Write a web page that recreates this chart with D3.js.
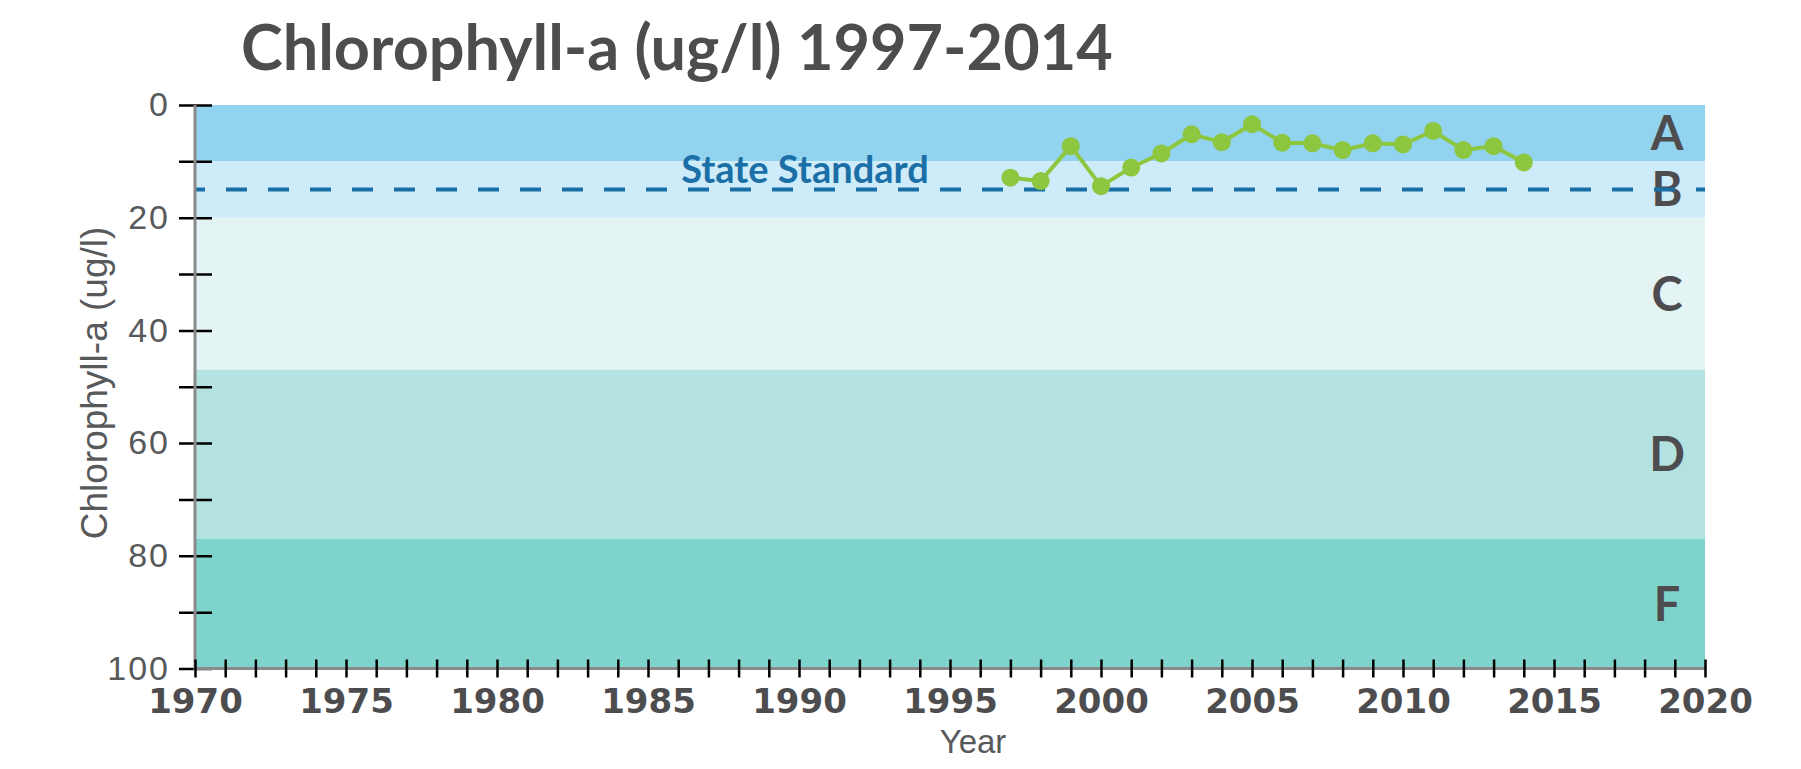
<!DOCTYPE html>
<head>
  <meta charset="utf-8">
  <script src="https://d3js.org/d3.v7.min.js"></script>
  <style>
    body { margin:0; background:#fff; }
  </style>
</head>

<body>
  <script>

    var width = 1801,
        height = 769;

    // data
    var years = [1997, 1998, 1999, 2000, 2001, 2002, 2003, 2004, 2005,
                 2006, 2007, 2008, 2009, 2010, 2011, 2012, 2013, 2014];
    var chl = [12.9, 13.5, 7.3, 14.4, 11.1, 8.6, 5.2, 6.6, 3.4,
               6.7, 6.8, 8.0, 6.8, 7.0, 4.6, 8.0, 7.3, 10.2];

    var gradeLabels = ["A", "B", "C", "D", "F"];
    var gradeBreaks = [0, 10, 20, 47, 77, 100];
    var gradeColors = ["#92d3ef", "#cdebf8", "#e4f3f4", "#b3e2e0", "#7fd3cd"];

    var stateStandard = 15;
    var yTicks = [0, 10, 20, 30, 40, 50, 60, 70, 80, 90, 100];
    var yLabelled = [0, 20, 40, 60, 80, 100];
    var xLabelled = [1970, 1975, 1980, 1985, 1990, 1995, 2000, 2005, 2010, 2015, 2020];

    var svg = d3.select("body").append("svg")
      .attr("width", width)
      .attr("height", height);

    var x = d3.scaleLinear().domain([1970, 2020]).range([195, 1705]);
    var y = d3.scaleLinear().domain([0, 100]).range([105, 668.5]);

    // grade bands
    var bands = gradeLabels.map(function(g, i) {
      return {label: g, lo: gradeBreaks[i], hi: gradeBreaks[i + 1], color: gradeColors[i]};
    });

    svg.selectAll("rect.band").data(bands).enter()
      .append("rect")
      .attr("class", "band")
      .attr("x", x(1970))
      .attr("y", function(d) { return y(d.lo); })
      .attr("width", x(2020) - x(1970))
      .attr("height", function(d) { return y(d.hi) - y(d.lo); })
      .attr("fill", function(d) { return d.color; });

    svg.selectAll("text.grade").data(bands).enter()
      .append("text")
      .attr("class", "grade")
      .attr("x", 1667)
      .attr("y", function(d) { return (y(d.lo) + y(d.hi)) / 2; })
      .attr("dy", "0.36em")
      .attr("text-anchor", "middle")
      .style("font-family", "Lato, sans-serif")
      .style("font-weight", "700")
      .style("font-size", "47px")
      .style("fill", "#4d4d4f")
      .text(function(d) { return d.label; });

    // state standard
    svg.append("line")
      .attr("x1", x(1970)).attr("x2", x(2020))
      .attr("y1", y(stateStandard)).attr("y2", y(stateStandard))
      .attr("stroke", "#1b6fa7")
      .attr("stroke-width", 4)
      .attr("stroke-dasharray", "21,21")
      .attr("stroke-dashoffset", 11);

    svg.append("text")
      .attr("x", 805)
      .attr("y", 183)
      .attr("text-anchor", "middle")
      .style("font-family", "Lato, sans-serif")
      .style("font-weight", "700")
      .style("font-size", "38px")
      .style("fill", "#1b6fa7")
      .text("State Standard");

    // axes
    var yAxis = d3.axisLeft(y)
      .tickValues(yTicks)
      .tickSize(16)
      .tickPadding(9)
      .tickFormat(function(d) { return yLabelled.indexOf(d) >= 0 ? d : ""; });

    var gy = svg.append("g").attr("transform", "translate(" + x(1970) + ",0)").call(yAxis);
    gy.select(".domain").remove();
    gy.selectAll(".tick line").attr("x1", 17).attr("stroke", "#000").attr("stroke-width", 2.5);
    gy.selectAll(".tick text")
      .style("font-family", "'Liberation Sans', Arial, sans-serif")
      .style("font-size", "34px")
      .style("letter-spacing", "2px")
      .style("fill", "#58595b");

    var xAxis = d3.axisBottom(x)
      .tickValues(d3.range(1970, 2021))
      .tickSize(9)
      .tickFormat(function(d) { return xLabelled.indexOf(d) >= 0 ? d : ""; });

    var gx = svg.append("g").attr("transform", "translate(0," + y(100) + ")").call(xAxis);
    gx.select(".domain").remove();
    gx.selectAll(".tick line").attr("y1", -9).attr("stroke", "#000").attr("stroke-width", 2.5);
    gx.selectAll(".tick text")
      .attr("y", 44).attr("dy", 0)
      .style("font-family", "'DejaVu Sans', sans-serif")
      .style("font-weight", "700")
      .style("font-size", "34px")
      .style("fill", "#4d4d4f");

    // axis lines drawn over ticks
    svg.append("line")
      .attr("x1", x(1970)).attr("x2", x(1970))
      .attr("y1", y(0)).attr("y2", y(100) + 1.5)
      .attr("stroke", "#8a8a8a").attr("stroke-width", 3);
    svg.append("line")
      .attr("x1", x(1970)).attr("x2", x(2020))
      .attr("y1", y(100)).attr("y2", y(100))
      .attr("stroke", "#8a8a8a").attr("stroke-width", 3);
    gx.raise();

    // series
    var line = d3.line()
      .x(function(d, i) { return x(years[i]); })
      .y(function(d) { return y(d); });

    svg.append("path")
      .datum(chl)
      .attr("d", line)
      .attr("fill", "none")
      .attr("stroke", "#8dc63f")
      .attr("stroke-width", 4);

    svg.selectAll("circle.pt").data(chl).enter()
      .append("circle")
      .attr("class", "pt")
      .attr("cx", function(d, i) { return x(years[i]); })
      .attr("cy", function(d) { return y(d); })
      .attr("r", 9)
      .attr("fill", "#8dc63f");

    // titles
    svg.append("text")
      .attr("x", 241)
      .attr("y", 70)
      .style("font-family", "Lato, sans-serif")
      .style("font-weight", "700")
      .style("font-size", "63px")
      .style("fill", "#4d4d4f")
      .text("Chlorophyll-a (ug/l) 1997-2014");

    svg.append("text")
      .attr("transform", "translate(107,383) rotate(-90)")
      .attr("text-anchor", "middle")
      .style("font-family", "'Liberation Sans', Arial, sans-serif")
      .style("font-size", "37px")
      .style("fill", "#58595b")
      .text("Chlorophyll-a (ug/l)");

    svg.append("text")
      .attr("x", 973)
      .attr("y", 753)
      .attr("text-anchor", "middle")
      .style("font-family", "'Liberation Sans', Arial, sans-serif")
      .style("font-size", "33px")
      .style("fill", "#58595b")
      .text("Year");

  </script>
</body>
